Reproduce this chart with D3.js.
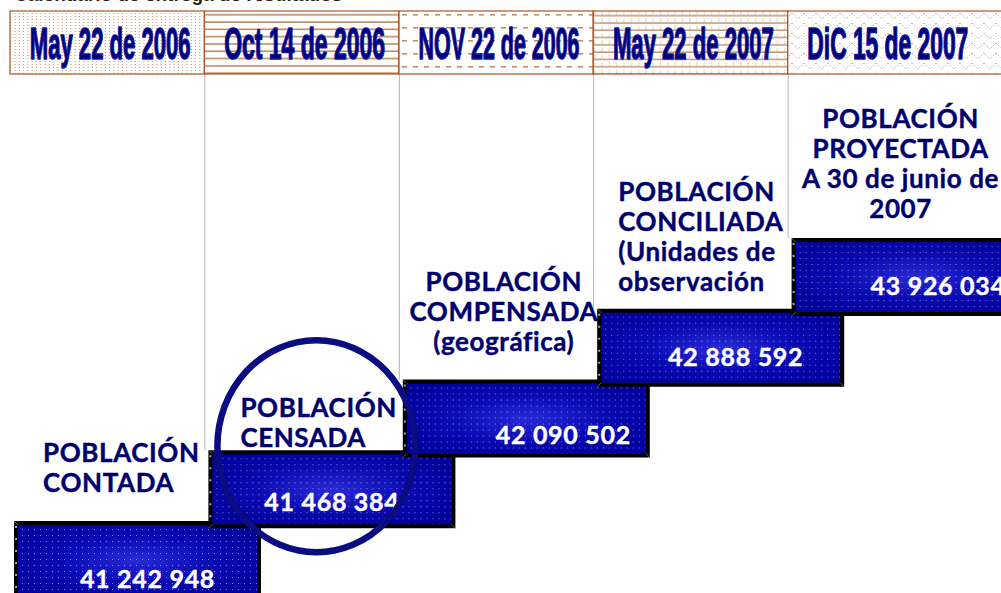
<!DOCTYPE html>
<html>
<head>
<meta charset="utf-8">
<script src="https://cdn.jsdelivr.net/npm/d3@7"></script>
<style>
  html, body { margin: 0; padding: 0; background: #fff; overflow: hidden; }
  svg { display: block; }
</style>
</head>
<body>
<div id="chart"></div>
<script>
// data
const title = 'Calendario de entrega de resultados';
const dates = ['May 22 de 2006', 'Oct 14 de 2006', 'NOV 22 de 2006', 'May 22 de 2007', 'DiC 15 de 2007'];
const stages = ['CONTADA', 'CENSADA', 'COMPENSADA', 'CONCILIADA', 'PROYECTADA'];
const values = [41242948, 41468384, 42090502, 42888592, 43926034];
const labels = [
  ['POBLACIÓN', 'CONTADA'],
  ['POBLACIÓN', 'CENSADA'],
  ['POBLACIÓN', 'COMPENSADA', '(geográfica)'],
  ['POBLACIÓN', 'CONCILIADA', '(Unidades de', 'observación'],
  ['POBLACIÓN', 'PROYECTADA', 'A 30 de junio de', '2007']
];
const highlighted = 'CENSADA';

// layout tweaks (per stage)
const labelDx = [33, 36, 105, 25, 113];
const labelAnchor = ['start', 'start', 'middle', 'start', 'middle'];
const labelGap = [29, 3, 29, 18, 20];
const numDx = [10, 0, 37, 15, 23];
const numDy = [67, 61, 64, 57, 57];

const width = 1001, height = 593;
const header = { top: 11, bottom: 74 };
const box = { w: 247, h: 78, inset: 4 };
const navy = '#00006e';
const brown = '#a9552a';

const svg = d3.select('#chart').append('svg')
  .attr('width', width)
  .attr('height', height);

const x = d3.scaleBand().domain(dates).range([10, 982]);
const y = d3.scalePoint().domain(stages).range([521, 238]);
const fmt = v => d3.format(',')(v).replace(/,/g, ' ');

const defs = svg.append('defs');

// header patterns
let p = defs.append('pattern').attr('id', 'pat0').attr('patternUnits', 'userSpaceOnUse')
  .attr('width', 4.3).attr('height', 3);
p.append('rect').attr('x', 1.5).attr('y', 1).attr('width', 1).attr('height', 1).attr('fill', '#c48c62');

p = defs.append('pattern').attr('id', 'pat1').attr('patternUnits', 'userSpaceOnUse')
  .attr('width', 10).attr('height', 7.3).attr('y', header.top);
p.append('rect').attr('x', 0).attr('y', 3).attr('width', 10).attr('height', 1.6).attr('fill', '#b98b63');

p = defs.append('pattern').attr('id', 'pat2').attr('patternUnits', 'userSpaceOnUse')
  .attr('width', 11).attr('height', 13).attr('x', 402).attr('y', header.top);
p.append('rect').attr('x', 0).attr('y', 3).attr('width', 5).attr('height', 1.6).attr('fill', '#c18e66');

p = defs.append('pattern').attr('id', 'pat3').attr('patternUnits', 'userSpaceOnUse')
  .attr('width', 7.3).attr('height', 7.3).attr('y', header.top);
p.append('rect').attr('x', 0).attr('y', 4).attr('width', 7.3).attr('height', 1.4).attr('fill', '#be9068');
p.append('rect').attr('x', 3).attr('y', 0.5).attr('width', 1).attr('height', 1).attr('fill', '#c9a07e');
p.append('rect').attr('x', 3).attr('y', 2.5).attr('width', 1).attr('height', 1).attr('fill', '#c9a07e');

p = defs.append('pattern').attr('id', 'pat4').attr('patternUnits', 'userSpaceOnUse')
  .attr('width', 12).attr('height', 10).attr('y', header.top);
p.append('path').attr('d', 'M0,2 L6,8 L12,2').attr('fill', 'none')
  .attr('stroke', '#c99a74').attr('stroke-width', 1).attr('stroke-dasharray', '1 1.6');

// box fill
const grad = defs.append('radialGradient').attr('id', 'boxgrad')
  .attr('cx', '50%').attr('cy', '50%').attr('r', '60%');
grad.append('stop').attr('offset', '0%').attr('stop-color', '#2a2ad6');
grad.append('stop').attr('offset', '55%').attr('stop-color', '#0a0ab2');
grad.append('stop').attr('offset', '100%').attr('stop-color', '#00009c');

p = defs.append('pattern').attr('id', 'boxdots').attr('patternUnits', 'userSpaceOnUse')
  .attr('width', 6).attr('height', 6);
p.append('rect').attr('x', 2).attr('y', 2).attr('width', 1).attr('height', 1)
  .attr('fill', '#fff').attr('opacity', 0.5);

p = defs.append('pattern').attr('id', 'edgedots').attr('patternUnits', 'userSpaceOnUse')
  .attr('width', 4).attr('height', 12);
p.append('circle').attr('cx', 2).attr('cy', 6).attr('r', 1).attr('fill', '#ddd');

// cut-off title at the very top
svg.append('text')
  .attr('x', 14).attr('y', 1)
  .attr('font-family', 'Liberation Sans, Arial, sans-serif')
  .attr('font-weight', 'bold')
  .attr('font-size', 19)
  .attr('fill', '#222')
  .text(title);

// grey separators down to each step
svg.append('g').selectAll('line')
  .data(stages.slice(1))
  .join('line')
  .attr('x1', (d, i) => x(dates[i + 1]) + 0.5)
  .attr('x2', (d, i) => x(dates[i + 1]) + 0.5)
  .attr('y1', header.bottom)
  .attr('y2', d => y(d))
  .attr('stroke', '#b4b4b4')
  .attr('stroke-width', 1);

// header strip
const hg = svg.append('g');
hg.selectAll('rect.cell')
  .data(dates)
  .join('rect')
  .attr('class', 'cell')
  .attr('x', d => x(d))
  .attr('y', header.top)
  .attr('width', (d, i) => i === dates.length - 1 ? width - x(d) + 5 : x.bandwidth())
  .attr('height', header.bottom - header.top)
  .attr('fill', (d, i) => `url(#pat${i})`)
  .attr('stroke', brown)
  .attr('stroke-width', 1.2);

hg.selectAll('text')
  .data(dates)
  .join('text')
  .attr('text-anchor', 'middle')
  .attr('font-family', 'Liberation Sans Narrow, Liberation Sans, Arial Narrow, sans-serif')
  .attr('font-weight', 'bold')
  .attr('font-size', 45)
  .attr('fill', '#00007c')
  .attr('stroke', '#14149a')
  .attr('stroke-width', 1.6)
  .attr('stroke-linejoin', 'round')
  .text(d => d)
  .each(function (d) {
    const w = this.getComputedTextLength();
    const cx = x(d) + x.bandwidth() / 2 + 3;
    d3.select(this).attr('transform', `translate(${cx},59) scale(${161 / w},1)`);
  });

// stage labels
const lineH = 30;
const lg = svg.append('g')
  .attr('font-family', 'Lato, Open Sans, sans-serif')
  .attr('font-weight', 'bold')
  .attr('fill', navy)
  .attr('stroke', navy)
  .attr('stroke-width', 0.4);

stages.forEach((s, i) => {
  const lines = labels[i];
  const bottom = y(s) - labelGap[i];
  lg.append('text')
    .attr('text-anchor', labelAnchor[i])
    .attr('font-size', 26)
    .attr('letter-spacing', 0.6)
    .selectAll('tspan')
    .data(lines)
    .join('tspan')
    .attr('x', x(dates[i]) + labelDx[i])
    .attr('y', (d, j) => bottom - (lines.length - 1 - j) * lineH)
    .text(d => d);
});

// value boxes
const bg = svg.append('g')
  .selectAll('g')
  .data(stages)
  .join('g')
  .attr('transform', (d, i) => `translate(${x(dates[i]) + 4},${y(d)})`);

bg.append('rect')
  .attr('width', box.w).attr('height', box.h)
  .attr('fill', '#000');
bg.append('rect')
  .attr('x', 0).attr('y', box.inset)
  .attr('width', box.inset).attr('height', box.h - 2 * box.inset)
  .attr('fill', 'url(#edgedots)');
bg.append('rect')
  .attr('x', box.inset).attr('y', box.inset)
  .attr('width', box.w - 2 * box.inset).attr('height', box.h - 2 * box.inset)
  .attr('fill', 'url(#boxgrad)');
bg.append('rect')
  .attr('x', box.inset).attr('y', box.inset)
  .attr('width', box.w - 2 * box.inset).attr('height', box.h - 2 * box.inset)
  .attr('fill', 'url(#boxdots)');
// bevel corners
bg.append('path')
  .attr('d', `M0,0 L${box.inset},${box.inset} M${box.w},0 L${box.w - box.inset},${box.inset}` +
    ` M0,${box.h} L${box.inset},${box.h - box.inset} M${box.w},${box.h} L${box.w - box.inset},${box.h - box.inset}`)
  .attr('stroke', '#777').attr('stroke-width', 0.8);

bg.append('text')
  .attr('x', (d, i) => box.w / 2 + numDx[i])
  .attr('y', (d, i) => numDy[i])
  .attr('text-anchor', 'middle')
  .attr('font-family', 'Lato, Open Sans, sans-serif')
  .attr('font-weight', 'bold')
  .attr('font-size', 25)
  .attr('letter-spacing', 0.7)
  .attr('fill', '#fff')
  .attr('stroke', '#fff')
  .attr('stroke-width', 0.4)
  .text((d, i) => fmt(values[i]));

// highlight ring around the census figure
const hi = stages.indexOf(highlighted);
svg.append('ellipse')
  .attr('cx', x(dates[hi]) + 112)
  .attr('cy', y(highlighted) - 4)
  .attr('rx', 99)
  .attr('ry', 106)
  .attr('fill', 'none')
  .attr('stroke', '#0b0b82')
  .attr('stroke-width', 6.5);
</script>
</body>
</html>
